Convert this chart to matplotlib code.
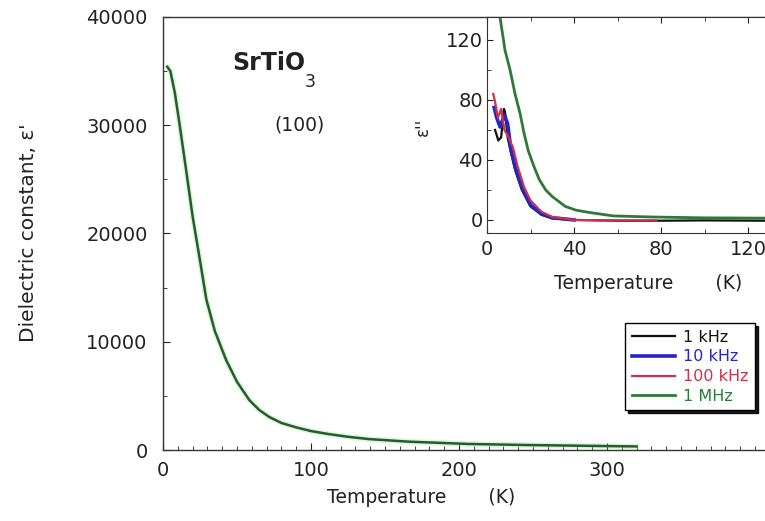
import matplotlib
matplotlib.use("Agg")
import matplotlib.pyplot as plt
from matplotlib.ticker import MultipleLocator

# ── data ────────────────────────────────────────────────────────────────────
# main panel: real part of dielectric constant (all frequencies overlap)
T_main = [2.9, 5, 8, 11.4, 15.9, 20, 25, 29.3, 35, 42.7, 50, 58.4, 65, 71.8,
          80, 89.7, 100, 112, 125, 139, 166, 206, 246, 290, 320]
eps_main = [35400, 35000, 33000, 29900, 25600, 21600, 17500, 13900, 11000,
            8300, 6300, 4600, 3700, 3050, 2500, 2100, 1750, 1470, 1220, 1010,
            770, 560, 460, 380, 330]

# inset: imaginary part, per frequency
T_1k = [3.7, 5.2, 6.5, 7.8, 8.3, 9.5, 11, 13, 16, 20, 25, 30, 40, 60, 80, 100, 128]
eps_1k = [60, 53, 55, 74, 72, 55, 45, 33, 20, 9, 3.5, 1, 0, -0.5, -0.5, -0.3, -0.5]

T_10k = [3.3, 4.5, 6, 8, 9.5, 11, 13, 16, 20, 25, 30, 40]
eps_10k = [75, 68, 62, 70, 64, 47, 35, 22, 10, 4, 1.5, 0]

T_100k = [2.9, 3.8, 5, 6.5, 8, 10, 12, 14, 17, 20, 25, 30, 40, 60, 78]
eps_100k = [84, 78, 68, 74, 60, 55, 48, 36, 22, 13, 5.5, 2, 0, -0.3, -0.3]

T_1M = [6, 8.3, 10.6, 12.9, 15.2, 17, 19, 21.5, 24, 27, 30, 36, 41, 47, 58, 75, 100, 128]
eps_1M = [135, 113, 100, 84, 71, 58, 46, 36, 27, 20, 15.6, 9, 6.5, 5, 2.7, 2, 1.4, 1.2]

freq_labels = ["1 kHz", "10 kHz", "100 kHz", "1 MHz"]
main_xticks = [0, 100, 200, 300]

C_BLACK = "#111111"
C_BLUE = "#2424c8"
C_RED = "#d0304a"
C_GREEN = "#2d7a38"
TXT = "#222222"

plt.rcParams["font.family"] = "DejaVu Sans"

fig = plt.figure(figsize=(7.65, 5.21), dpi=100)

# ── main panel ───────────────────────────────────────────────────────────────
ax = fig.add_axes([163/765, 71/521, 602/765, 433/521])
ax.plot(T_main, eps_main, color="#9be89b", lw=4.0, alpha=0.35, solid_capstyle="round")
ax.plot(T_main, eps_main, color="#245c2c", lw=1.8)

ax.set_xlim(0, 406.8)
ax.set_ylim(0, 40000)
ax.set_xticks(main_xticks)
ax.xaxis.set_minor_locator(MultipleLocator(10))
ax.yaxis.set_major_locator(MultipleLocator(10000))
ax.yaxis.set_minor_locator(MultipleLocator(5000))
ax.tick_params(which="both", direction="in", labelsize=14, colors=TXT)
ax.tick_params(axis="y", which="major", length=5, pad=11)
ax.tick_params(axis="x", which="major", length=5, pad=8)
ax.tick_params(which="minor", length=3)
ax.spines["right"].set_visible(False)
for sp in ["left", "bottom", "top"]:
    ax.spines[sp].set_linewidth(1.0)
    ax.spines[sp].set_color("#333333")

ax.set_xlabel("Temperature       (K)", fontsize=13.5, color=TXT)
ax.xaxis.set_label_coords(0.4286, -0.088)
ax.set_ylabel("Dielectric constant, ε'", fontsize=14.5, color=TXT)
ax.yaxis.set_label_coords(-0.207, 0.502)

ax.text(0.1146, 0.8776, "SrTiO", transform=ax.transAxes, fontsize=17,
        fontweight="bold", color=TXT, ha="left", va="baseline")
ax.text(0.2359, 0.838, "3", transform=ax.transAxes, fontsize=12.5,
        color=TXT, ha="left", va="baseline")
ax.text(0.226, 0.7506, "(100)", transform=ax.transAxes, fontsize=13.5,
        color=TXT, ha="center", va="center")

# ── inset: imaginary part ────────────────────────────────────────────────────
axi = fig.add_axes([487/765, 288/521, 278/765, 216/521])
l1, = axi.plot(T_1k, eps_1k, color=C_BLACK, lw=1.6, label=freq_labels[0])
l2, = axi.plot(T_10k, eps_10k, color=C_BLUE, lw=2.6, label=freq_labels[1])
l3, = axi.plot(T_100k, eps_100k, color=C_RED, lw=1.6, label=freq_labels[2])
l4, = axi.plot(T_1M, eps_1M, color=C_GREEN, lw=2.0, label=freq_labels[3])

axi.set_xlim(0, 127.8)
axi.set_ylim(-8.7, 135.3)
axi.xaxis.set_major_locator(MultipleLocator(40))
axi.xaxis.set_minor_locator(MultipleLocator(20))
axi.yaxis.set_major_locator(MultipleLocator(40))
axi.yaxis.set_minor_locator(MultipleLocator(20))
axi.tick_params(which="both", direction="in", top=True, labelsize=14, colors=TXT)
axi.tick_params(axis="y", which="major", length=4, pad=3)
axi.tick_params(axis="x", which="major", length=4, pad=5)
axi.tick_params(which="minor", length=3)
axi.spines["right"].set_visible(False)
for sp in ["left", "bottom", "top"]:
    axi.spines[sp].set_color("#333333")
axi.set_xlabel("Temperature       (K)", fontsize=13.5, color=TXT)
axi.xaxis.set_label_coords(0.579, -0.19)
axi.set_ylabel("ε''", fontsize=12, color=TXT)
axi.yaxis.set_label_coords(-0.2, 0.49)

# legend sits in the main panel
leg = ax.legend(handles=[l1, l2, l3, l4], loc="upper right",
                bbox_to_anchor=(0.983, 0.293), fontsize=11.5, labelcolor="linecolor",
                fancybox=False, framealpha=1, edgecolor="black",
                shadow={"color": "black", "alpha": 0.9},
                handlelength=2.7, labelspacing=0.3, borderpad=0.4,
                handletextpad=0.5, borderaxespad=0)
leg.get_frame().set_linewidth(1.0)

fig.savefig("out.png", dpi=100, facecolor="white")
